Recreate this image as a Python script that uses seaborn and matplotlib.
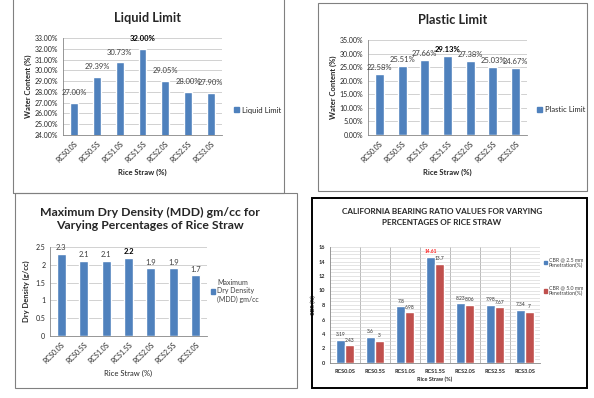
import matplotlib
matplotlib.use("Agg")
import matplotlib.pyplot as plt
import seaborn as sns
import pandas as pd
import numpy as np
from matplotlib.patches import Patch, Rectangle
from matplotlib.ticker import MultipleLocator, FuncFormatter

# ---------------- data ----------------
categories = ["RCS0.0S", "RCS0.5S", "RCS1.0S", "RCS1.5S", "RCS2.0S", "RCS2.5S", "RCS3.0S"]
liquid_limit = [27.00, 29.39, 30.73, 32.00, 29.05, 28.00, 27.90]
plastic_limit = [22.58, 25.51, 27.66, 29.13, 27.38, 25.03, 24.67]
mdd = [2.3, 2.1, 2.1, 2.2, 1.9, 1.9, 1.7]
mdd_labels = ["2.3", "2.1", "2.1", "2.2", "1.9", "1.9", "1.7"]
cbr_25 = [3.19, 3.6, 7.8, 14.61, 8.23, 7.98, 7.34]
cbr_50 = [2.43, 3, 6.98, 13.7, 8.06, 7.67, 7]
cbr_25_labels = ["3.19", "3.6", "7.8", "14.61", "8.23", "7.98", "7.34"]
cbr_50_labels = ["2.43", "3", "6.98", "13.7", "8.06", "7.67", "7"]
series_cbr = ["CBR @ 2.5 mm\nPenetration(%)", "CBR @ 5.0 mm\nPenetration(%)"]

sns.set_style("white")
plt.rcParams["font.family"] = ["Lato", "DejaVu Sans"]

BLUE = "#4F81BD"
RED = "#C0504D"
GRID = "#BFBFBF"
W, H = 594, 398

fig = plt.figure(figsize=(W / 100, H / 100), dpi=100)


def ax_px(x0, y0, x1, y1):
    return fig.add_axes([x0 / W, 1 - y1 / H, (x1 - x0) / W, (y1 - y0) / H])


def border(x0, y0, x1, y1, color="#808080", lw=0.8):
    fig.patches.append(Rectangle((x0 / W, 1 - y1 / H), (x1 - x0) / W, (y1 - y0) / H,
                                 transform=fig.transFigure, fill=False,
                                 edgecolor=color, linewidth=lw))


def ftext(x, y, s, **kw):
    fig.text(x / W, 1 - y / H, s, **kw)


def style_axes(ax, fs=5):
    for s in ["top", "right"]:
        ax.spines[s].set_visible(False)
    for s in ["left", "bottom"]:
        ax.spines[s].set_color("#868686")
        ax.spines[s].set_linewidth(0.6)
    ax.tick_params(axis="both", labelsize=fs, length=2, width=0.5, color="#868686", pad=1.5)
    ax.grid(axis="y", color=GRID, linewidth=0.5)
    ax.set_axisbelow(True)


# ---------------- borders ----------------
border(13, -2, 284, 193)
border(318, 3, 587, 191)
border(15, 193, 297, 388)
border(312, 198, 587, 388, color="black", lw=1.4)

# ---------------- Panel 1: Liquid Limit ----------------
df1 = pd.DataFrame({"cat": categories, "val": liquid_limit})
ax1 = ax_px(63, 38, 222, 135)
sns.barplot(data=df1, x="cat", y="val", color=BLUE, width=0.35, saturation=1, ax=ax1)
ax1.set_ylim(24, 33)
ax1.yaxis.set_major_locator(MultipleLocator(1))
ax1.yaxis.set_major_formatter(FuncFormatter(lambda v, p: f"{v:.2f}%"))
style_axes(ax1)
ax1.set_xticks(range(len(categories)))
ax1.set_xticklabels(categories, rotation=45, ha="right", rotation_mode="anchor", fontsize=5)
ax1.set_xlabel("Rice Straw (%)", fontsize=5.5, fontweight="bold", labelpad=4)
ax1.set_ylabel("Water Content (%)", fontsize=5.5, fontweight="bold", labelpad=2)
ts = ax1.bar_label(ax1.containers[0], labels=[f"{v:.2f}%" for v in liquid_limit],
                   fontsize=5.5, color="#404040", padding=5)
ts[3].set_fontweight("bold")
ts[3].set_color("black")
ftext(148, 18, "Liquid Limit", fontsize=9.2, fontweight="bold", ha="center", va="center")
ax1.legend(handles=[Patch(color=BLUE, label="Liquid Limit")], loc="center left",
           bbox_to_anchor=(234 / W, 1 - 110 / H), bbox_transform=fig.transFigure,
           frameon=False, fontsize=5.5, handlelength=0.6, handleheight=0.6, handletextpad=0.4,
           borderaxespad=0, borderpad=0)

# ---------------- Panel 2: Plastic Limit ----------------
df2 = pd.DataFrame({"cat": categories, "val": plastic_limit})
ax2 = ax_px(368, 40, 527, 135)
sns.barplot(data=df2, x="cat", y="val", color=BLUE, width=0.4, saturation=1, ax=ax2)
ax2.set_ylim(0, 35)
ax2.yaxis.set_major_locator(MultipleLocator(5))
ax2.yaxis.set_major_formatter(FuncFormatter(lambda v, p: f"{v:.2f}%"))
style_axes(ax2)
ax2.set_xticks(range(len(categories)))
ax2.set_xticklabels(categories, rotation=45, ha="right", rotation_mode="anchor", fontsize=5)
ax2.set_xlabel("Rice Straw (%)", fontsize=5.5, fontweight="bold", labelpad=4)
ax2.set_ylabel("Water Content (%)", fontsize=5.5, fontweight="bold", labelpad=2)
ts = ax2.bar_label(ax2.containers[0], labels=[f"{v:.2f}%" for v in plastic_limit],
                   fontsize=5.5, color="#404040", padding=2)
ts[3].set_fontweight("bold")
ts[3].set_color("black")
ftext(453, 20, "Plastic Limit", fontsize=9.2, fontweight="bold", ha="center", va="center")
ax2.legend(handles=[Patch(color=BLUE, label="Plastic Limit")], loc="center left",
           bbox_to_anchor=(537 / W, 1 - 110 / H), bbox_transform=fig.transFigure,
           frameon=False, fontsize=5.5, handlelength=0.6, handleheight=0.6, handletextpad=0.4,
           borderaxespad=0, borderpad=0)

# ---------------- Panel 3: MDD ----------------
df3 = pd.DataFrame({"cat": categories, "val": mdd})
ax3 = ax_px(50, 247, 207, 336)
sns.barplot(data=df3, x="cat", y="val", color=BLUE, width=0.4, saturation=1, ax=ax3)
ax3.set_ylim(0, 2.5)
ax3.yaxis.set_major_locator(MultipleLocator(0.5))
ax3.yaxis.set_major_formatter(FuncFormatter(lambda v, p: f"{v:g}"))
style_axes(ax3)
ax3.set_xticks(range(len(categories)))
ax3.set_xticklabels(categories, rotation=45, ha="right", rotation_mode="anchor", fontsize=5)
ax3.set_xlabel("Rice Straw (%)", fontsize=5.5, labelpad=4)
ax3.set_ylabel("Dry Density (g/cc)", fontsize=5.5, fontweight="bold", labelpad=4)
ts = ax3.bar_label(ax3.containers[0], labels=mdd_labels, fontsize=5.5, color="#404040", padding=2)
ts[3].set_fontweight("bold")
ts[3].set_color("black")
ftext(150, 219, "Maximum Dry Density (MDD) gm/cc for\nVarying Percentages of Rice Straw",
      fontsize=8.8, fontweight="bold", ha="center", va="center", linespacing=1.3)
ax3.legend(handles=[Patch(color=BLUE, label="Maximum\nDry Density\n(MDD) gm/cc")],
           loc="center left", bbox_to_anchor=(211 / W, 1 - 291 / H), bbox_transform=fig.transFigure,
           frameon=False, fontsize=5, handlelength=0.6, handleheight=0.6, handletextpad=0.3,
           borderaxespad=0, borderpad=0, labelcolor="#404040")

# ---------------- Panel 4: CBR ----------------
df4 = pd.DataFrame({
    "cat": categories * 2,
    "val": cbr_25 + cbr_50,
    "series": [series_cbr[0]] * len(categories) + [series_cbr[1]] * len(categories),
})
ax4 = ax_px(330, 247, 540, 363)
sns.barplot(data=df4, x="cat", y="val", hue="series", palette=[BLUE, RED], width=0.57,
            saturation=1, ax=ax4, legend=False)
ax4.set_ylim(0, 16)
ax4.set_xlim(-0.5, len(categories) - 0.5)
ax4.yaxis.set_major_locator(MultipleLocator(2))
ax4.yaxis.set_minor_locator(MultipleLocator(0.5))
for s in ["top", "right"]:
    ax4.spines[s].set_visible(False)
for s in ["left", "bottom"]:
    ax4.spines[s].set_color("#868686")
    ax4.spines[s].set_linewidth(0.6)
ax4.tick_params(axis="both", labelsize=4, length=2, width=0.5, color="#868686", pad=1.5)
ax4.tick_params(axis="y", which="minor", length=0)
ax4.tick_params(axis="x", length=0, pad=4)
ax4.grid(axis="y", which="both", color="#D0D0D0", linewidth=0.4)
ax4.set_axisbelow(True)
for b in np.arange(0.5, len(categories), 1.0):
    ax4.axvline(b, color="#A0A0A0", linewidth=0.5, zorder=0)
ax4.set_xticks(range(len(categories)))
ax4.set_xticklabels(categories, fontsize=4, fontweight="bold")
for t in ax4.get_yticklabels():
    t.set_fontweight("bold")
ax4.set_xlabel("Rice Straw (%)", fontsize=4, fontweight="bold", labelpad=2)
ax4.set_ylabel("CBR (%)", fontsize=4, fontweight="bold", labelpad=2)
ta = ax4.bar_label(ax4.containers[0], labels=cbr_25_labels, fontsize=3.5, color="#303030", padding=2)
tb = ax4.bar_label(ax4.containers[1], labels=cbr_50_labels, fontsize=3.5, color="#303030", padding=2)
ta[3].set_color("#FF2020")
ta[3].set_fontweight("bold")
ftext(442, 217, "CALIFORNIA BEARING RATIO VALUES FOR VARYING\nPERCENTAGES OF RICE STRAW",
      fontsize=5.9, fontweight="bold", ha="center", va="center", linespacing=1.7)
ax4.legend(handles=[Patch(color=BLUE, label=series_cbr[0]), Patch(color=RED, label=series_cbr[1])],
           loc="upper left", bbox_to_anchor=(544 / W, 1 - 257 / H), bbox_transform=fig.transFigure,
           frameon=False, fontsize=3.8, handlelength=0.6, handleheight=0.6, handletextpad=0.3,
           borderaxespad=0, borderpad=0, labelspacing=3.2, labelcolor="#404040")

fig.savefig("out.png", dpi=100)
